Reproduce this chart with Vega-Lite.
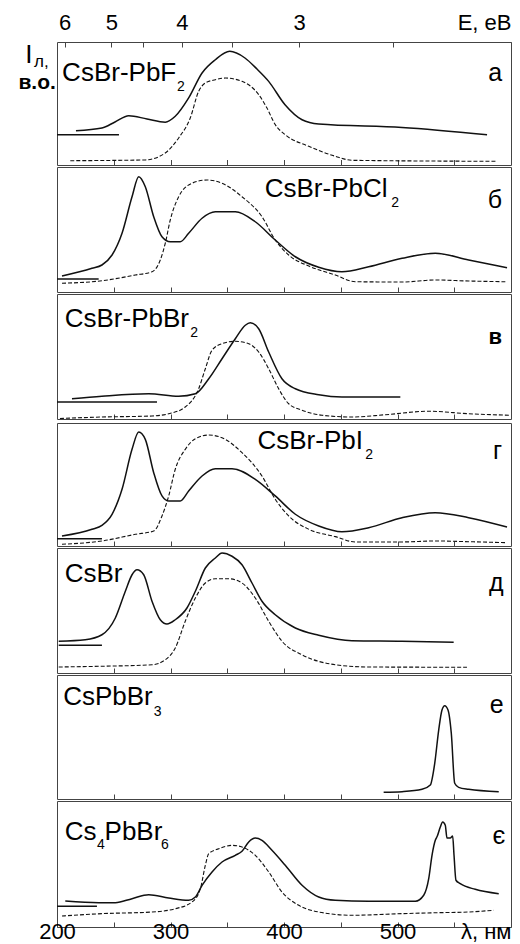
{
"$schema": "https://vega.github.io/schema/vega-lite/v6.json",
"padding": {"left": 17, "top": 10, "right": 11, "bottom": 0},
"spacing": 0,
"config": {"view": {"stroke": "#444", "strokeWidth": 1}, "font": "Liberation Sans", "axis": {"tickColor": "#444", "tickWidth": 1, "labelFont": "Liberation Sans", "labelColor": "#000", "domain": false, "grid": false, "title": null}},
"datasets": {
"curves": [
{"p":"a","g":"a1","s":"solid","x":216.7,"y":0.279},{"p":"a","g":"a1","s":"solid","x":239.6,"y":0.301},{"p":"a","g":"a1","s":"solid","x":251.1,"y":0.35},{"p":"a","g":"a1","s":"solid","x":263.2,"y":0.401},{"p":"a","g":"a1","s":"solid","x":279.3,"y":0.374},{"p":"a","g":"a1","s":"solid","x":295.4,"y":0.348},{"p":"a","g":"a1","s":"solid","x":304.2,"y":0.396},{"p":"a","g":"a1","s":"solid","x":316,"y":0.545},{"p":"a","g":"a1","s":"solid","x":327.8,"y":0.748},{"p":"a","g":"a1","s":"solid","x":339.5,"y":0.856},{"p":"a","g":"a1","s":"solid","x":352.2,"y":0.924},{"p":"a","g":"a1","s":"solid","x":365.6,"y":0.87},{"p":"a","g":"a1","s":"solid","x":376.2,"y":0.78},{"p":"a","g":"a1","s":"solid","x":386.5,"y":0.68},{"p":"a","g":"a1","s":"solid","x":400.9,"y":0.49},{"p":"a","g":"a1","s":"solid","x":415.9,"y":0.368},{"p":"a","g":"a1","s":"solid","x":430.6,"y":0.333},{"p":"a","g":"a1","s":"solid","x":504,"y":0.305},{"p":"a","g":"a1","s":"solid","x":578.9,"y":0.246},
{"p":"a","g":"a2","s":"solid","x":200,"y":0.246},{"p":"a","g":"a2","s":"solid","x":254.6,"y":0.246},
{"p":"a","g":"a3","s":"dash","x":211.7,"y":0.035},{"p":"a","g":"a3","s":"dash","x":277.8,"y":0.041},{"p":"a","g":"a3","s":"dash","x":295.4,"y":0.098},{"p":"a","g":"a3","s":"dash","x":307.2,"y":0.22},{"p":"a","g":"a3","s":"dash","x":317.4,"y":0.382},{"p":"a","g":"a3","s":"dash","x":324.8,"y":0.599},{"p":"a","g":"a3","s":"dash","x":330.7,"y":0.667},{"p":"a","g":"a3","s":"dash","x":339.5,"y":0.693},{"p":"a","g":"a3","s":"dash","x":348.3,"y":0.707},{"p":"a","g":"a3","s":"dash","x":363,"y":0.68},{"p":"a","g":"a3","s":"dash","x":377.7,"y":0.572},{"p":"a","g":"a3","s":"dash","x":385,"y":0.463},{"p":"a","g":"a3","s":"dash","x":392.3,"y":0.328},{"p":"a","g":"a3","s":"dash","x":401.1,"y":0.246},{"p":"a","g":"a3","s":"dash","x":421.8,"y":0.152},{"p":"a","g":"a3","s":"dash","x":445.2,"y":0.071},{"p":"a","g":"a3","s":"dash","x":459.9,"y":0.038},{"p":"a","g":"a3","s":"dash","x":587.7,"y":0.03},
{"p":"b","g":"b1","s":"solid","x":204.4,"y":0.128},{"p":"b","g":"b1","s":"solid","x":230.8,"y":0.19},{"p":"b","g":"b1","s":"solid","x":239.6,"y":0.216},{"p":"b","g":"b1","s":"solid","x":248.5,"y":0.296},{"p":"b","g":"b1","s":"solid","x":257.3,"y":0.47},{"p":"b","g":"b1","s":"solid","x":266.1,"y":0.762},{"p":"b","g":"b1","s":"solid","x":272,"y":0.922},{"p":"b","g":"b1","s":"solid","x":277.8,"y":0.842},{"p":"b","g":"b1","s":"solid","x":285.2,"y":0.602},{"p":"b","g":"b1","s":"solid","x":292.5,"y":0.442},{"p":"b","g":"b1","s":"solid","x":299.8,"y":0.402},{"p":"b","g":"b1","s":"solid","x":308.6,"y":0.402},{"p":"b","g":"b1","s":"solid","x":316,"y":0.47},{"p":"b","g":"b1","s":"solid","x":327.8,"y":0.59},{"p":"b","g":"b1","s":"solid","x":339.5,"y":0.642},{"p":"b","g":"b1","s":"solid","x":357.1,"y":0.642},{"p":"b","g":"b1","s":"solid","x":374.7,"y":0.562},{"p":"b","g":"b1","s":"solid","x":392.3,"y":0.416},{"p":"b","g":"b1","s":"solid","x":410,"y":0.282},{"p":"b","g":"b1","s":"solid","x":430.6,"y":0.198},{"p":"b","g":"b1","s":"solid","x":451.1,"y":0.162},{"p":"b","g":"b1","s":"solid","x":474.6,"y":0.202},{"p":"b","g":"b1","s":"solid","x":504,"y":0.27},{"p":"b","g":"b1","s":"solid","x":533.3,"y":0.31},{"p":"b","g":"b1","s":"solid","x":562.7,"y":0.256},{"p":"b","g":"b1","s":"solid","x":596.5,"y":0.194},
{"p":"b","g":"b2","s":"solid","x":200,"y":0.104},{"p":"b","g":"b2","s":"solid","x":236.7,"y":0.104},
{"p":"b","g":"b3","s":"dash","x":204.4,"y":0.07},{"p":"b","g":"b3","s":"dash","x":239.6,"y":0.09},{"p":"b","g":"b3","s":"dash","x":269,"y":0.136},{"p":"b","g":"b3","s":"dash","x":283.7,"y":0.162},{"p":"b","g":"b3","s":"dash","x":291,"y":0.256},{"p":"b","g":"b3","s":"dash","x":295.4,"y":0.39},{"p":"b","g":"b3","s":"dash","x":299.8,"y":0.576},{"p":"b","g":"b3","s":"dash","x":307.2,"y":0.762},{"p":"b","g":"b3","s":"dash","x":318.9,"y":0.87},{"p":"b","g":"b3","s":"dash","x":332.2,"y":0.896},{"p":"b","g":"b3","s":"dash","x":345.4,"y":0.87},{"p":"b","g":"b3","s":"dash","x":363,"y":0.762},{"p":"b","g":"b3","s":"dash","x":380.6,"y":0.602},{"p":"b","g":"b3","s":"dash","x":392.3,"y":0.416},{"p":"b","g":"b3","s":"dash","x":404.1,"y":0.296},{"p":"b","g":"b3","s":"dash","x":421.8,"y":0.208},{"p":"b","g":"b3","s":"dash","x":445.2,"y":0.136},{"p":"b","g":"b3","s":"dash","x":462.8,"y":0.082},{"p":"b","g":"b3","s":"dash","x":504,"y":0.08},{"p":"b","g":"b3","s":"dash","x":533.3,"y":0.096},{"p":"b","g":"b3","s":"dash","x":562.7,"y":0.088},{"p":"b","g":"b3","s":"dash","x":595,"y":0.082},
{"p":"c","g":"c1","s":"solid","x":213.2,"y":0.162},{"p":"c","g":"c1","s":"solid","x":239.6,"y":0.182},{"p":"c","g":"c1","s":"solid","x":280.8,"y":0.202},{"p":"c","g":"c1","s":"solid","x":307.2,"y":0.182},{"p":"c","g":"c1","s":"solid","x":321.9,"y":0.202},{"p":"c","g":"c1","s":"solid","x":333.7,"y":0.322},{"p":"c","g":"c1","s":"solid","x":345.4,"y":0.482},{"p":"c","g":"c1","s":"solid","x":357.1,"y":0.642},{"p":"c","g":"c1","s":"solid","x":365.9,"y":0.75},{"p":"c","g":"c1","s":"solid","x":370.3,"y":0.77},{"p":"c","g":"c1","s":"solid","x":377.7,"y":0.722},{"p":"c","g":"c1","s":"solid","x":386.5,"y":0.536},{"p":"c","g":"c1","s":"solid","x":398.2,"y":0.322},{"p":"c","g":"c1","s":"solid","x":410,"y":0.242},{"p":"c","g":"c1","s":"solid","x":430.6,"y":0.194},{"p":"c","g":"c1","s":"solid","x":451.1,"y":0.176},{"p":"c","g":"c1","s":"solid","x":502.5,"y":0.176},
{"p":"c","g":"c2","s":"solid","x":200,"y":0.136},{"p":"c","g":"c2","s":"solid","x":288.1,"y":0.136},
{"p":"c","g":"c3","s":"dash","x":202.6,"y":0.004},{"p":"c","g":"c3","s":"dash","x":239.6,"y":0.016},{"p":"c","g":"c3","s":"dash","x":283.7,"y":0.024},{"p":"c","g":"c3","s":"dash","x":298.4,"y":0.042},{"p":"c","g":"c3","s":"dash","x":313,"y":0.096},{"p":"c","g":"c3","s":"dash","x":324.8,"y":0.242},{"p":"c","g":"c3","s":"dash","x":330.7,"y":0.402},{"p":"c","g":"c3","s":"dash","x":336.6,"y":0.55},{"p":"c","g":"c3","s":"dash","x":345.4,"y":0.602},{"p":"c","g":"c3","s":"dash","x":357.1,"y":0.622},{"p":"c","g":"c3","s":"dash","x":368.9,"y":0.602},{"p":"c","g":"c3","s":"dash","x":377.7,"y":0.536},{"p":"c","g":"c3","s":"dash","x":386.5,"y":0.402},{"p":"c","g":"c3","s":"dash","x":395.3,"y":0.242},{"p":"c","g":"c3","s":"dash","x":404.1,"y":0.122},{"p":"c","g":"c3","s":"dash","x":415.9,"y":0.07},{"p":"c","g":"c3","s":"dash","x":433.5,"y":0.03},{"p":"c","g":"c3","s":"dash","x":459.9,"y":0.016},{"p":"c","g":"c3","s":"dash","x":489.3,"y":0.034},{"p":"c","g":"c3","s":"dash","x":527.5,"y":0.062},{"p":"c","g":"c3","s":"dash","x":562.7,"y":0.042},{"p":"c","g":"c3","s":"dash","x":599.4,"y":0.03},
{"p":"d","g":"d1","s":"solid","x":204.4,"y":0.081},{"p":"d","g":"d1","s":"solid","x":230.8,"y":0.136},{"p":"d","g":"d1","s":"solid","x":239.6,"y":0.168},{"p":"d","g":"d1","s":"solid","x":248.5,"y":0.258},{"p":"d","g":"d1","s":"solid","x":257.3,"y":0.461},{"p":"d","g":"d1","s":"solid","x":266.1,"y":0.786},{"p":"d","g":"d1","s":"solid","x":272,"y":0.927},{"p":"d","g":"d1","s":"solid","x":277.8,"y":0.867},{"p":"d","g":"d1","s":"solid","x":285.2,"y":0.596},{"p":"d","g":"d1","s":"solid","x":292.5,"y":0.407},{"p":"d","g":"d1","s":"solid","x":298.4,"y":0.366},{"p":"d","g":"d1","s":"solid","x":308.6,"y":0.366},{"p":"d","g":"d1","s":"solid","x":316,"y":0.447},{"p":"d","g":"d1","s":"solid","x":327.8,"y":0.569},{"p":"d","g":"d1","s":"solid","x":339.5,"y":0.628},{"p":"d","g":"d1","s":"solid","x":354.2,"y":0.628},{"p":"d","g":"d1","s":"solid","x":374.7,"y":0.542},{"p":"d","g":"d1","s":"solid","x":392.3,"y":0.407},{"p":"d","g":"d1","s":"solid","x":410,"y":0.258},{"p":"d","g":"d1","s":"solid","x":430.6,"y":0.163},{"p":"d","g":"d1","s":"solid","x":451.1,"y":0.116},{"p":"d","g":"d1","s":"solid","x":474.6,"y":0.149},{"p":"d","g":"d1","s":"solid","x":504,"y":0.23},{"p":"d","g":"d1","s":"solid","x":533.3,"y":0.271},{"p":"d","g":"d1","s":"solid","x":562.7,"y":0.23},{"p":"d","g":"d1","s":"solid","x":596.5,"y":0.154},
{"p":"d","g":"d2","s":"solid","x":200,"y":0.059},{"p":"d","g":"d2","s":"solid","x":239.6,"y":0.059},
{"p":"d","g":"d3","s":"dash","x":204.4,"y":0.014},{"p":"d","g":"d3","s":"dash","x":239.6,"y":0.041},{"p":"d","g":"d3","s":"dash","x":269,"y":0.095},{"p":"d","g":"d3","s":"dash","x":285.2,"y":0.122},{"p":"d","g":"d3","s":"dash","x":292.5,"y":0.244},{"p":"d","g":"d3","s":"dash","x":298.4,"y":0.407},{"p":"d","g":"d3","s":"dash","x":304.2,"y":0.624},{"p":"d","g":"d3","s":"dash","x":313,"y":0.786},{"p":"d","g":"d3","s":"dash","x":321.9,"y":0.872},{"p":"d","g":"d3","s":"dash","x":333.7,"y":0.902},{"p":"d","g":"d3","s":"dash","x":345.4,"y":0.88},{"p":"d","g":"d3","s":"dash","x":363,"y":0.759},{"p":"d","g":"d3","s":"dash","x":380.6,"y":0.569},{"p":"d","g":"d3","s":"dash","x":392.3,"y":0.38},{"p":"d","g":"d3","s":"dash","x":404.1,"y":0.244},{"p":"d","g":"d3","s":"dash","x":421.8,"y":0.136},{"p":"d","g":"d3","s":"dash","x":445.2,"y":0.076},{"p":"d","g":"d3","s":"dash","x":462.8,"y":0.033},{"p":"d","g":"d3","s":"dash","x":504,"y":0.033},{"p":"d","g":"d3","s":"dash","x":533.3,"y":0.041},{"p":"d","g":"d3","s":"dash","x":562.7,"y":0.035},{"p":"d","g":"d3","s":"dash","x":595,"y":0.027},
{"p":"e","g":"e1","s":"solid","x":201.5,"y":0.254},{"p":"e","g":"e1","s":"solid","x":224.9,"y":0.266},{"p":"e","g":"e1","s":"solid","x":239.6,"y":0.306},{"p":"e","g":"e1","s":"solid","x":251.4,"y":0.44},{"p":"e","g":"e1","s":"solid","x":260.2,"y":0.654},{"p":"e","g":"e1","s":"solid","x":266.1,"y":0.786},{"p":"e","g":"e1","s":"solid","x":270.5,"y":0.826},{"p":"e","g":"e1","s":"solid","x":276.4,"y":0.786},{"p":"e","g":"e1","s":"solid","x":283.7,"y":0.574},{"p":"e","g":"e1","s":"solid","x":291,"y":0.426},{"p":"e","g":"e1","s":"solid","x":296.9,"y":0.392},{"p":"e","g":"e1","s":"solid","x":304.2,"y":0.426},{"p":"e","g":"e1","s":"solid","x":314.5,"y":0.52},{"p":"e","g":"e1","s":"solid","x":321.9,"y":0.654},{"p":"e","g":"e1","s":"solid","x":330.7,"y":0.84},{"p":"e","g":"e1","s":"solid","x":339.5,"y":0.92},{"p":"e","g":"e1","s":"solid","x":345.4,"y":0.96},{"p":"e","g":"e1","s":"solid","x":354.2,"y":0.934},{"p":"e","g":"e1","s":"solid","x":363,"y":0.866},{"p":"e","g":"e1","s":"solid","x":371.8,"y":0.72},{"p":"e","g":"e1","s":"solid","x":380.6,"y":0.574},{"p":"e","g":"e1","s":"solid","x":392.3,"y":0.466},{"p":"e","g":"e1","s":"solid","x":410,"y":0.36},{"p":"e","g":"e1","s":"solid","x":430.6,"y":0.302},{"p":"e","g":"e1","s":"solid","x":459.9,"y":0.258},{"p":"e","g":"e1","s":"solid","x":504,"y":0.254},{"p":"e","g":"e1","s":"solid","x":549.5,"y":0.246},
{"p":"e","g":"e2","s":"solid","x":201.5,"y":0.222},{"p":"e","g":"e2","s":"solid","x":239.6,"y":0.222},
{"p":"e","g":"e3","s":"dash","x":201.5,"y":0.048},{"p":"e","g":"e3","s":"dash","x":239.6,"y":0.054},{"p":"e","g":"e3","s":"dash","x":283.7,"y":0.066},{"p":"e","g":"e3","s":"dash","x":295.4,"y":0.106},{"p":"e","g":"e3","s":"dash","x":304.2,"y":0.2},{"p":"e","g":"e3","s":"dash","x":313,"y":0.414},{"p":"e","g":"e3","s":"dash","x":321.9,"y":0.6},{"p":"e","g":"e3","s":"dash","x":330.7,"y":0.72},{"p":"e","g":"e3","s":"dash","x":339.5,"y":0.754},{"p":"e","g":"e3","s":"dash","x":351.3,"y":0.754},{"p":"e","g":"e3","s":"dash","x":363,"y":0.72},{"p":"e","g":"e3","s":"dash","x":374.7,"y":0.6},{"p":"e","g":"e3","s":"dash","x":386.5,"y":0.414},{"p":"e","g":"e3","s":"dash","x":398.2,"y":0.254},{"p":"e","g":"e3","s":"dash","x":415.9,"y":0.146},{"p":"e","g":"e3","s":"dash","x":445.2,"y":0.066},{"p":"e","g":"e3","s":"dash","x":474.6,"y":0.048},{"p":"e","g":"e3","s":"dash","x":561.2,"y":0.046},
{"p":"f","g":"f1","s":"solid","x":487.8,"y":0.054},{"p":"f","g":"f1","s":"solid","x":504,"y":0.059},{"p":"f","g":"f1","s":"solid","x":521.6,"y":0.078},{"p":"f","g":"f1","s":"solid","x":528.9,"y":0.113},{"p":"f","g":"f1","s":"solid","x":532.8,"y":0.288},{"p":"f","g":"f1","s":"solid","x":536.3,"y":0.556},{"p":"f","g":"f1","s":"solid","x":539.2,"y":0.718},{"p":"f","g":"f1","s":"solid","x":541.6,"y":0.752},{"p":"f","g":"f1","s":"solid","x":544.5,"y":0.718},{"p":"f","g":"f1","s":"solid","x":547.4,"y":0.53},{"p":"f","g":"f1","s":"solid","x":550.4,"y":0.127},{"p":"f","g":"f1","s":"solid","x":553.9,"y":0.094},{"p":"f","g":"f1","s":"solid","x":562.7,"y":0.078},{"p":"f","g":"f1","s":"solid","x":589.2,"y":0.059},
{"p":"g","g":"g1","s":"solid","x":207.3,"y":0.206},{"p":"g","g":"g1","s":"solid","x":236.7,"y":0.193},{"p":"g","g":"g1","s":"solid","x":251.4,"y":0.193},{"p":"g","g":"g1","s":"solid","x":266.1,"y":0.225},{"p":"g","g":"g1","s":"solid","x":280.8,"y":0.256},{"p":"g","g":"g1","s":"solid","x":298.4,"y":0.23},{"p":"g","g":"g1","s":"solid","x":316,"y":0.212},{"p":"g","g":"g1","s":"solid","x":321.9,"y":0.238},{"p":"g","g":"g1","s":"solid","x":327.8,"y":0.331},{"p":"g","g":"g1","s":"solid","x":336.6,"y":0.437},{"p":"g","g":"g1","s":"solid","x":345.4,"y":0.516},{"p":"g","g":"g1","s":"solid","x":357.1,"y":0.569},{"p":"g","g":"g1","s":"solid","x":363,"y":0.601},{"p":"g","g":"g1","s":"solid","x":368.9,"y":0.675},{"p":"g","g":"g1","s":"solid","x":374.7,"y":0.706},{"p":"g","g":"g1","s":"solid","x":380.6,"y":0.688},{"p":"g","g":"g1","s":"solid","x":389.4,"y":0.609},{"p":"g","g":"g1","s":"solid","x":401.1,"y":0.49},{"p":"g","g":"g1","s":"solid","x":415.9,"y":0.331},{"p":"g","g":"g1","s":"solid","x":430.6,"y":0.238},{"p":"g","g":"g1","s":"solid","x":445.2,"y":0.212},{"p":"g","g":"g1","s":"solid","x":474.6,"y":0.204},{"p":"g","g":"g1","s":"solid","x":515.7,"y":0.204},{"p":"g","g":"g1","s":"solid","x":523.1,"y":0.252},{"p":"g","g":"g1","s":"solid","x":527.5,"y":0.383},{"p":"g","g":"g1","s":"solid","x":530.4,"y":0.569},{"p":"g","g":"g1","s":"solid","x":533.3,"y":0.688},{"p":"g","g":"g1","s":"solid","x":535.1,"y":0.722},{"p":"g","g":"g1","s":"solid","x":537.7,"y":0.794},{"p":"g","g":"g1","s":"solid","x":539.8,"y":0.833},{"p":"g","g":"g1","s":"solid","x":542.1,"y":0.807},{"p":"g","g":"g1","s":"solid","x":543.6,"y":0.706},{"p":"g","g":"g1","s":"solid","x":546.5,"y":0.706},{"p":"g","g":"g1","s":"solid","x":548.6,"y":0.722},{"p":"g","g":"g1","s":"solid","x":549.8,"y":0.569},{"p":"g","g":"g1","s":"solid","x":551.5,"y":0.371},{"p":"g","g":"g1","s":"solid","x":555.3,"y":0.344},{"p":"g","g":"g1","s":"solid","x":568.5,"y":0.299},{"p":"g","g":"g1","s":"solid","x":589.2,"y":0.264},
{"p":"g","g":"g2","s":"solid","x":200,"y":0.164},{"p":"g","g":"g2","s":"solid","x":235.2,"y":0.164},
{"p":"g","g":"g3","s":"dash","x":204.4,"y":0.087},{"p":"g","g":"g3","s":"dash","x":239.6,"y":0.106},{"p":"g","g":"g3","s":"dash","x":283.7,"y":0.119},{"p":"g","g":"g3","s":"dash","x":304.2,"y":0.145},{"p":"g","g":"g3","s":"dash","x":318.9,"y":0.198},{"p":"g","g":"g3","s":"dash","x":326.3,"y":0.304},{"p":"g","g":"g3","s":"dash","x":330.7,"y":0.49},{"p":"g","g":"g3","s":"dash","x":333.7,"y":0.582},{"p":"g","g":"g3","s":"dash","x":342.5,"y":0.621},{"p":"g","g":"g3","s":"dash","x":354.2,"y":0.648},{"p":"g","g":"g3","s":"dash","x":363,"y":0.635},{"p":"g","g":"g3","s":"dash","x":374.7,"y":0.569},{"p":"g","g":"g3","s":"dash","x":386.5,"y":0.437},{"p":"g","g":"g3","s":"dash","x":398.2,"y":0.278},{"p":"g","g":"g3","s":"dash","x":413,"y":0.172},{"p":"g","g":"g3","s":"dash","x":430.6,"y":0.119},{"p":"g","g":"g3","s":"dash","x":459.9,"y":0.093},{"p":"g","g":"g3","s":"dash","x":504,"y":0.106},{"p":"g","g":"g3","s":"dash","x":533.3,"y":0.113},{"p":"g","g":"g3","s":"dash","x":562.7,"y":0.119},{"p":"g","g":"g3","s":"dash","x":584.7,"y":0.133}
],
"labels": [
{"p":"a","k":"main","x":204.5,"y":0.68,"t":"CsBr-PbF"},{"p":"a","k":"sub","x":305.7,"y":0.602,"t":"2"},{"p":"a","k":"letter","x":592.1,"y":0.683,"t":"а"},
{"p":"a","k":"main","x":172,"y":0.829,"t":"I"},{"p":"a","k":"ysub","x":179.7,"y":0.797,"t":"л,"},{"p":"a","k":"vo","x":199,"y":0.62,"t":"в.о."},
{"p":"b","k":"main","x":383,"y":0.762,"t":"CsBr-PbCl"},{"p":"b","k":"sub","x":494.6,"y":0.682,"t":"2"},{"p":"b","k":"letter","x":592.1,"y":0.67,"t":"б"},
{"p":"c","k":"main","x":206.8,"y":0.736,"t":"CsBr-PbBr"},{"p":"c","k":"sub","x":317.4,"y":0.656,"t":"2"},{"p":"c","k":"letterb","x":592.1,"y":0.602,"t":"в"},
{"p":"d","k":"main","x":376.6,"y":0.786,"t":"CsBr-PbI"},{"p":"d","k":"sub","x":471.6,"y":0.705,"t":"2"},{"p":"d","k":"letter","x":592.1,"y":0.705,"t":"г"},
{"p":"e","k":"main","x":206.8,"y":0.728,"t":"CsBr"},{"p":"e","k":"letter","x":593.5,"y":0.654,"t":"д"},
{"p":"f","k":"main","x":205.4,"y":0.758,"t":"CsPbBr"},{"p":"f","k":"sub","x":285.2,"y":0.669,"t":"3"},{"p":"f","k":"letter","x":593.5,"y":0.691,"t":"е"},
{"p":"g","k":"main","x":206.8,"y":0.688,"t":"Cs"},{"p":"g","k":"sub","x":235.2,"y":0.621,"t":"4"},{"p":"g","k":"main","x":241.9,"y":0.688,"t":"PbBr"},{"p":"g","k":"sub","x":291.6,"y":0.621,"t":"6"},{"p":"g","k":"letter","x":595,"y":0.661,"t":"є"}
]
},
"vconcat": [
{"width": 454, "height": 123,
 "encoding": {"x": {"field": "x", "type": "quantitative", "scale": {"domain": [200, 600], "nice": false, "zero": false}, "axis": {"orient": "bottom", "values": [250,300,350,400,450,500,550], "tickSize": -5, "labels": false}},
  "y": {"field": "y", "type": "quantitative", "scale": {"domain": [0, 1], "nice": false, "zero": false}, "axis": null}},
 "resolve": {"axis": {"x": "independent"}},
 "layer": [
  {"data": {"name": "curves"}, "transform": [{"filter": "datum.p=='a' && datum.s=='solid'"}], "mark": {"type": "line", "interpolate": "monotone", "color": "#111", "strokeWidth": 1.5}, "encoding": {"detail": {"field": "g"}}},
  {"data": {"name": "curves"}, "transform": [{"filter": "datum.p=='a' && datum.s=='dash'"}], "mark": {"type": "line", "interpolate": "monotone", "color": "#111", "strokeWidth": 1.1, "strokeDash": [4, 2]},
   "encoding": {"detail": {"field": "g"}, "x": {"field": "x", "type": "quantitative", "scale": {"domain": [200, 600], "nice": false, "zero": false}, "axis": {"orient": "top", "values": [206.667,248,275.556,310,354.286,413.333,496,600], "tickSize": -5, "labels": true, "labelFontSize": 22, "labelPadding": 13, "labelOverlap": false, "labelBound": false, "labelFlush": false, "labelExpr": "datum.value >= 599 ? 'E, еВ' : (abs(1240/datum.value - round(1240/datum.value)) < 0.01 ? format(round(1240/datum.value), 'd') : '')", "labelAlign": {"condition": {"test": "datum.value >= 599", "value": "right"}, "value": "center"}}}}},
  {"data": {"name": "labels"}, "transform": [{"filter": "datum.p=='a' && datum.k=='main'"}], "mark": {"type": "text", "align": "left", "baseline": "alphabetic", "fontSize": 26, "color": "#000"}, "encoding": {"text": {"field": "t"}}},
  {"data": {"name": "labels"}, "transform": [{"filter": "datum.p=='a' && datum.k=='sub'"}], "mark": {"type": "text", "align": "left", "baseline": "alphabetic", "fontSize": 14, "color": "#000"}, "encoding": {"text": {"field": "t"}}},
  {"data": {"name": "labels"}, "transform": [{"filter": "datum.p=='a' && datum.k=='letter'"}], "mark": {"type": "text", "align": "right", "baseline": "alphabetic", "fontSize": 25, "color": "#000"}, "encoding": {"text": {"field": "t"}}},
  {"data": {"name": "labels"}, "transform": [{"filter": "datum.p=='a' && datum.k=='ysub'"}], "mark": {"type": "text", "align": "left", "baseline": "alphabetic", "fontSize": 17, "color": "#000"}, "encoding": {"text": {"field": "t"}}},
  {"data": {"name": "labels"}, "transform": [{"filter": "datum.p=='a' && datum.k=='vo'"}], "mark": {"type": "text", "align": "right", "baseline": "alphabetic", "fontSize": 21, "fontWeight": "bold", "color": "#000"}, "encoding": {"text": {"field": "t"}}}
 ]},
{"width": 454, "height": 125,
 "encoding": {"x": {"field": "x", "type": "quantitative", "scale": {"domain": [200, 600], "nice": false, "zero": false}, "axis": {"orient": "bottom", "values": [250,300,350,400,450,500,550], "tickSize": -5, "labels": false}},
  "y": {"field": "y", "type": "quantitative", "scale": {"domain": [0, 1], "nice": false, "zero": false}, "axis": null}},
 "layer": [
  {"data": {"name": "curves"}, "transform": [{"filter": "datum.p=='b' && datum.s=='solid'"}], "mark": {"type": "line", "interpolate": "monotone", "color": "#111", "strokeWidth": 1.5}, "encoding": {"detail": {"field": "g"}}},
  {"data": {"name": "curves"}, "transform": [{"filter": "datum.p=='b' && datum.s=='dash'"}], "mark": {"type": "line", "interpolate": "monotone", "color": "#111", "strokeWidth": 1.1, "strokeDash": [4, 2]}, "encoding": {"detail": {"field": "g"}}},
  {"data": {"name": "labels"}, "transform": [{"filter": "datum.p=='b' && datum.k=='main'"}], "mark": {"type": "text", "align": "left", "baseline": "alphabetic", "fontSize": 26, "color": "#000"}, "encoding": {"text": {"field": "t"}}},
  {"data": {"name": "labels"}, "transform": [{"filter": "datum.p=='b' && datum.k=='sub'"}], "mark": {"type": "text", "align": "left", "baseline": "alphabetic", "fontSize": 14, "color": "#000"}, "encoding": {"text": {"field": "t"}}},
  {"data": {"name": "labels"}, "transform": [{"filter": "datum.p=='b' && datum.k=='letter'"}], "mark": {"type": "text", "align": "right", "baseline": "alphabetic", "fontSize": 25, "color": "#000"}, "encoding": {"text": {"field": "t"}}}
 ]},
{"width": 454, "height": 125,
 "encoding": {"x": {"field": "x", "type": "quantitative", "scale": {"domain": [200, 600], "nice": false, "zero": false}, "axis": {"orient": "bottom", "values": [250,300,350,400,450,500,550], "tickSize": -5, "labels": false}},
  "y": {"field": "y", "type": "quantitative", "scale": {"domain": [0, 1], "nice": false, "zero": false}, "axis": null}},
 "layer": [
  {"data": {"name": "curves"}, "transform": [{"filter": "datum.p=='c' && datum.s=='solid'"}], "mark": {"type": "line", "interpolate": "monotone", "color": "#111", "strokeWidth": 1.5}, "encoding": {"detail": {"field": "g"}}},
  {"data": {"name": "curves"}, "transform": [{"filter": "datum.p=='c' && datum.s=='dash'"}], "mark": {"type": "line", "interpolate": "monotone", "color": "#111", "strokeWidth": 1.1, "strokeDash": [4, 2]}, "encoding": {"detail": {"field": "g"}}},
  {"data": {"name": "labels"}, "transform": [{"filter": "datum.p=='c' && datum.k=='main'"}], "mark": {"type": "text", "align": "left", "baseline": "alphabetic", "fontSize": 26, "color": "#000"}, "encoding": {"text": {"field": "t"}}},
  {"data": {"name": "labels"}, "transform": [{"filter": "datum.p=='c' && datum.k=='sub'"}], "mark": {"type": "text", "align": "left", "baseline": "alphabetic", "fontSize": 14, "color": "#000"}, "encoding": {"text": {"field": "t"}}},
  {"data": {"name": "labels"}, "transform": [{"filter": "datum.p=='c' && datum.k=='letterb'"}], "mark": {"type": "text", "align": "right", "baseline": "alphabetic", "fontSize": 22, "fontWeight": "bold", "color": "#000"}, "encoding": {"text": {"field": "t"}}}
 ]},
{"width": 454, "height": 123,
 "encoding": {"x": {"field": "x", "type": "quantitative", "scale": {"domain": [200, 600], "nice": false, "zero": false}, "axis": {"orient": "bottom", "values": [250,300,350,400,450,500,550], "tickSize": -5, "labels": false}},
  "y": {"field": "y", "type": "quantitative", "scale": {"domain": [0, 1], "nice": false, "zero": false}, "axis": null}},
 "layer": [
  {"data": {"name": "curves"}, "transform": [{"filter": "datum.p=='d' && datum.s=='solid'"}], "mark": {"type": "line", "interpolate": "monotone", "color": "#111", "strokeWidth": 1.5}, "encoding": {"detail": {"field": "g"}}},
  {"data": {"name": "curves"}, "transform": [{"filter": "datum.p=='d' && datum.s=='dash'"}], "mark": {"type": "line", "interpolate": "monotone", "color": "#111", "strokeWidth": 1.1, "strokeDash": [4, 2]}, "encoding": {"detail": {"field": "g"}}},
  {"data": {"name": "labels"}, "transform": [{"filter": "datum.p=='d' && datum.k=='main'"}], "mark": {"type": "text", "align": "left", "baseline": "alphabetic", "fontSize": 26, "color": "#000"}, "encoding": {"text": {"field": "t"}}},
  {"data": {"name": "labels"}, "transform": [{"filter": "datum.p=='d' && datum.k=='sub'"}], "mark": {"type": "text", "align": "left", "baseline": "alphabetic", "fontSize": 14, "color": "#000"}, "encoding": {"text": {"field": "t"}}},
  {"data": {"name": "labels"}, "transform": [{"filter": "datum.p=='d' && datum.k=='letter'"}], "mark": {"type": "text", "align": "right", "baseline": "alphabetic", "fontSize": 25, "color": "#000"}, "encoding": {"text": {"field": "t"}}}
 ]},
{"width": 454, "height": 125,
 "encoding": {"x": {"field": "x", "type": "quantitative", "scale": {"domain": [200, 600], "nice": false, "zero": false}, "axis": {"orient": "bottom", "values": [250,300,350,400,450,500,550], "tickSize": -5, "labels": false}},
  "y": {"field": "y", "type": "quantitative", "scale": {"domain": [0, 1], "nice": false, "zero": false}, "axis": null}},
 "layer": [
  {"data": {"name": "curves"}, "transform": [{"filter": "datum.p=='e' && datum.s=='solid'"}], "mark": {"type": "line", "interpolate": "monotone", "color": "#111", "strokeWidth": 1.5}, "encoding": {"detail": {"field": "g"}}},
  {"data": {"name": "curves"}, "transform": [{"filter": "datum.p=='e' && datum.s=='dash'"}], "mark": {"type": "line", "interpolate": "monotone", "color": "#111", "strokeWidth": 1.1, "strokeDash": [4, 2]}, "encoding": {"detail": {"field": "g"}}},
  {"data": {"name": "labels"}, "transform": [{"filter": "datum.p=='e' && datum.k=='main'"}], "mark": {"type": "text", "align": "left", "baseline": "alphabetic", "fontSize": 26, "color": "#000"}, "encoding": {"text": {"field": "t"}}},
  {"data": {"name": "labels"}, "transform": [{"filter": "datum.p=='e' && datum.k=='letter'"}], "mark": {"type": "text", "align": "right", "baseline": "alphabetic", "fontSize": 25, "color": "#000"}, "encoding": {"text": {"field": "t"}}}
 ]},
{"width": 454, "height": 124,
 "encoding": {"x": {"field": "x", "type": "quantitative", "scale": {"domain": [200, 600], "nice": false, "zero": false}, "axis": {"orient": "bottom", "values": [250,300,350,400,450,500,550], "tickSize": -5, "labels": false}},
  "y": {"field": "y", "type": "quantitative", "scale": {"domain": [0, 1], "nice": false, "zero": false}, "axis": null}},
 "layer": [
  {"data": {"name": "curves"}, "transform": [{"filter": "datum.p=='f' && datum.s=='solid'"}], "mark": {"type": "line", "interpolate": "monotone", "color": "#111", "strokeWidth": 1.5}, "encoding": {"detail": {"field": "g"}}},
  {"data": {"name": "labels"}, "transform": [{"filter": "datum.p=='f' && datum.k=='main'"}], "mark": {"type": "text", "align": "left", "baseline": "alphabetic", "fontSize": 26, "color": "#000"}, "encoding": {"text": {"field": "t"}}},
  {"data": {"name": "labels"}, "transform": [{"filter": "datum.p=='f' && datum.k=='sub'"}], "mark": {"type": "text", "align": "left", "baseline": "alphabetic", "fontSize": 14, "color": "#000"}, "encoding": {"text": {"field": "t"}}},
  {"data": {"name": "labels"}, "transform": [{"filter": "datum.p=='f' && datum.k=='letter'"}], "mark": {"type": "text", "align": "right", "baseline": "alphabetic", "fontSize": 25, "color": "#000"}, "encoding": {"text": {"field": "t"}}}
 ]},
{"width": 454, "height": 126,
 "encoding": {"x": {"field": "x", "type": "quantitative", "scale": {"domain": [200, 600], "nice": false, "zero": false}, "axis": {"orient": "bottom", "values": [200,250,300,350,400,450,500,550,600], "tickSize": -5, "labels": true, "labelFontSize": 22, "labelPadding": -1, "labelOverlap": false, "labelBound": false, "labelFlush": false, "labelExpr": "datum.value >= 599 ? 'λ, нм' : (datum.value % 100 == 0 ? datum.label : '')", "labelAlign": {"condition": {"test": "datum.value >= 599", "value": "right"}, "value": "center"}}},
  "y": {"field": "y", "type": "quantitative", "scale": {"domain": [0, 1], "nice": false, "zero": false}, "axis": null}},
 "layer": [
  {"data": {"name": "curves"}, "transform": [{"filter": "datum.p=='g' && datum.s=='solid'"}], "mark": {"type": "line", "interpolate": "monotone", "color": "#111", "strokeWidth": 1.5}, "encoding": {"detail": {"field": "g"}}},
  {"data": {"name": "curves"}, "transform": [{"filter": "datum.p=='g' && datum.s=='dash'"}], "mark": {"type": "line", "interpolate": "monotone", "color": "#111", "strokeWidth": 1.1, "strokeDash": [4, 2]}, "encoding": {"detail": {"field": "g"}}},
  {"data": {"name": "labels"}, "transform": [{"filter": "datum.p=='g' && datum.k=='main'"}], "mark": {"type": "text", "align": "left", "baseline": "alphabetic", "fontSize": 26, "color": "#000"}, "encoding": {"text": {"field": "t"}}},
  {"data": {"name": "labels"}, "transform": [{"filter": "datum.p=='g' && datum.k=='sub'"}], "mark": {"type": "text", "align": "left", "baseline": "alphabetic", "fontSize": 14, "color": "#000"}, "encoding": {"text": {"field": "t"}}},
  {"data": {"name": "labels"}, "transform": [{"filter": "datum.p=='g' && datum.k=='letter'"}], "mark": {"type": "text", "align": "right", "baseline": "alphabetic", "fontSize": 25, "color": "#000"}, "encoding": {"text": {"field": "t"}}}
 ]}
]
}
